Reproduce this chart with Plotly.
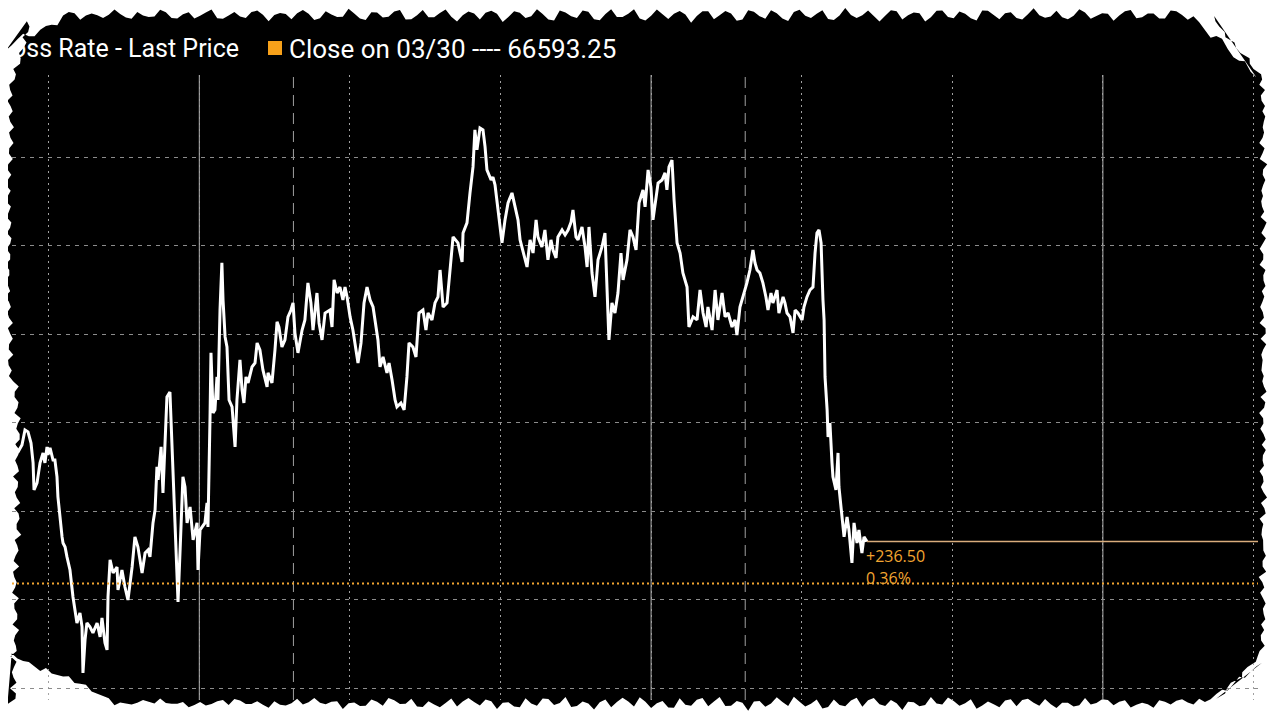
import numpy as np
import plotly.graph_objects as go

# ---- data (hours since 03/30 00:00, price) ----
hours = [14.10, 14.37, 14.58, 14.74, 14.90, 15.06, 15.17, 15.22, 15.38, 15.54, 15.70, 15.80, 15.91, 15.96, 16.07,
         16.23, 16.33, 16.44, 16.49, 16.60, 16.71, 16.76, 16.87, 16.97, 17.13, 17.29, 17.40, 17.50, 17.66, 17.77,
         17.82, 17.93, 18.03, 18.19, 18.35, 18.57, 18.73, 18.83, 18.99, 19.10, 19.15, 19.26, 19.42, 19.63, 19.68,
         19.89, 20.05, 20.21, 20.43, 20.58, 20.74, 20.96, 21.12, 21.28, 21.38, 21.54, 21.65, 21.75, 21.81, 21.97,
         22.07, 22.18, 22.28, 22.44, 22.55, 22.60, 22.71, 22.82, 22.87, 22.98, 23.13, 23.24, 23.35, 23.51, 23.67,
         23.88, 23.93, 24.04, 24.30, 24.41, 24.46, 24.57, 24.62, 24.73, 24.83, 24.94, 24.99, 25.10, 25.20, 25.26,
         25.37, 25.47, 25.58, 25.74, 25.90, 26.00, 26.16, 26.27, 26.37, 26.48, 26.59, 26.80, 26.96, 27.07, 27.22,
         27.38, 27.60, 27.65, 27.86, 28.02, 28.13, 28.23, 28.39, 28.55, 28.71, 28.87, 28.98, 29.08, 29.24, 29.46,
         29.61, 29.77, 29.93, 30.04, 30.25, 30.36, 30.52, 30.68, 30.94, 31.05, 31.16, 31.32, 31.47, 31.63, 31.74,
         31.85, 32.01, 32.16, 32.32, 32.43, 32.59, 32.75, 32.91, 33.07, 33.23, 33.39, 33.49, 33.60, 33.76, 33.97,
         34.08, 34.24, 34.40, 34.50, 34.71, 34.88, 35.03, 35.14, 35.35, 35.51, 35.67, 35.88, 36.04, 36.15, 36.36,
         36.52, 36.68, 36.79, 36.95, 37.16, 37.32, 37.48, 37.74, 37.96, 38.01, 38.22, 38.38, 38.54, 38.64, 38.75,
         38.91, 39.07, 39.18, 39.28, 39.50, 39.60, 39.71, 39.87, 40.08, 40.24, 40.40, 40.61, 40.77, 40.93, 41.04,
         41.20, 41.41, 41.57, 41.73, 41.89, 41.99, 42.20, 42.36, 42.52, 42.68, 42.79, 42.95, 43.05, 43.27, 43.43,
         43.59, 43.75, 43.85, 44.01, 44.12, 44.33, 44.49, 44.60, 44.70, 44.86, 45.02, 45.18, 45.39, 45.55, 45.66,
         45.76, 45.92, 46.08, 46.24, 46.40, 46.51, 46.72, 46.88, 47.04, 47.20, 47.36, 47.57, 47.68, 47.84, 47.99,
         48.10, 48.26, 48.37, 48.58, 48.74, 48.84, 48.95, 49.11, 49.22, 49.38, 49.54, 49.69, 49.91, 50.01, 50.23,
         50.44, 50.60, 50.76, 50.92, 51.02, 51.24, 51.40, 51.55, 51.77, 51.93, 52.09, 52.30, 52.46, 52.56, 52.72,
         52.88, 53.09, 53.25, 53.41, 53.52, 53.63, 53.78, 53.94, 54.10, 54.21, 54.37, 54.47, 54.69, 54.79, 55.01,
         55.11, 55.22, 55.38, 55.54, 55.65, 55.80, 56.02, 56.12, 56.28, 56.44, 56.60, 56.71, 56.81, 56.92, 57.03,
         57.13, 57.19, 57.24, 57.35, 57.40, 57.50, 57.61, 57.66, 57.82, 57.93, 57.98, 58.14, 58.25, 58.41, 58.51,
         58.67, 58.78, 58.94, 59.04, 59.20, 59.31, 59.47]

prices = [67386, 67336, 67375, 67460, 67449, 67386, 67274, 67121, 67161, 67274, 67330, 67274, 67364, 67319, 67358,
          67290, 67290, 67195, 67082, 66952, 66856, 66822, 66799, 66743, 66669, 66517, 66444, 66370, 66427, 66348,
          66088, 66274, 66370, 66348, 66314, 66370, 66291, 66398, 66257, 66218, 66517, 66726, 66652, 66686, 66556,
          66669, 66573, 66500, 66686, 66856, 66799, 66652, 66765, 66782, 66743, 66935, 67008, 67251, 67178, 67364,
          67104, 67420, 67646, 67674, 67386, 67195, 66969, 66596, 66489, 66782, 67195, 67138, 66935, 67025, 66839,
          66935, 66669, 66895, 66935, 67048, 66912, 67533, 67895, 67556, 67573, 67759, 67629, 68137, 68403, 68194,
          67985, 67928, 67629, 67590, 67364, 67629, 67855, 67686, 67612, 67759, 67725, 67816, 67838, 67951, 67912,
          67799, 67703, 67782, 67725, 67912, 68070, 68041, 67928, 67968, 68098, 68137, 68177, 68008, 67895, 68024,
          68081, 68290, 68177, 68024, 68233, 68064, 67968, 68120, 68137, 68041, 68307, 68233, 68267, 68194, 68267,
          68211, 68098, 68024, 67928, 67838, 67951, 68177, 68267, 68194, 68154, 68024, 67968, 67816, 67872, 67782,
          67838, 67742, 67629, 67590, 67612, 67573, 67759, 67951, 67928, 67872, 68120, 68137, 68024, 68120, 68081,
          68177, 68211, 68363, 68154, 68177, 68380, 68550, 68516, 68408, 68572, 68629, 68798, 68945, 69154, 69041,
          69165, 69154, 69058, 68928, 68871, 68888, 68843, 68685, 68516, 68646, 68742, 68798, 68719, 68646, 68533,
          68459, 68380, 68533, 68459, 68646, 68550, 68493, 68589, 68420, 68533, 68476, 68431, 68550, 68589, 68561,
          68589, 68634, 68702, 68550, 68533, 68606, 68493, 68380, 68606, 68346, 68211, 68420, 68493, 68572, 68233,
          67968, 68177, 68120, 68233, 68459, 68307, 68420, 68589, 68550, 68476, 68742, 68815, 68719, 68928, 68832,
          68646, 68758, 68854, 68871, 68911, 68815, 68945, 68984, 68758, 68516, 68459, 68346, 68267, 68041, 68098,
          68081, 68250, 68120, 68041, 68154, 68024, 68250, 68081, 68233, 68098, 68120, 68041, 68081, 67996, 68154,
          68211, 68290, 68363, 68476, 68403, 68363, 68346, 68290, 68211, 68137, 68233, 68177, 68250, 68120, 68211,
          68177, 68120, 68098, 68008, 68137, 68120, 68081, 68154, 68211, 68250, 68267, 68459, 68572, 68589, 68516,
          68194, 68081, 67759, 67573, 67420, 67499, 67274, 67195, 67121, 67330, 67138, 66991, 66856, 66969, 66895,
          66709, 66935, 66822, 66895, 66765, 66856, 66829.75]

close_price = 66593.25
last_price = 66829.75
change_abs = "+236.50"
change_pct = "0.36%"
series_name = "oss Rate - Last Price"   # visible part of the (torn) series title
close_label = "Close on 03/30 ---- 66593.25"

day_lines = [24, 48, 72]
session_lines = [29, 53]
x_range = [14.05, 80.24]
y_range = [65935, 69464]

# ---- geometry (layout only); page body has an 8px margin ----
OFF = 8
W, H = 1280 - OFF, 720 - OFF
ML, MT = 12 - OFF, 75 - OFF
MR, MB = 22, 20
PW, PH = W - ML - MR, H - MT - MB


def px2paper(px, py):
    # px, py are screen pixel positions
    return (px - OFF - ML) / PW, (H - MB - (py - OFF)) / PH


# torn-paper black backdrop: jagged rectangle (deterministic wobble)
def wobble(t, a):
    return a * (0.55 * np.sin(t * 1.7) + 0.3 * np.sin(t * 5.3 + 1.1) + 0.25 * np.sin(t * 13.1 + 0.4)
                + 0.2 * np.sin(t * 31.7 + 2.0))


pts = []
n = 220
for i in range(n):  # top edge, left->right
    px = 6 + (1262 - 6) * i / n
    py = 15 + wobble(i * 0.9, 6)
    if px < 70:
        py += (70 - px) * 0.5
    if px > 1190:
        py += (px - 1190) * 0.9
    pts.append((px, py))
m = 130
for i in range(m):  # right edge, top->bottom
    py = 16 + (704 - 16) * i / m
    px = 1263 + wobble(i * 1.3 + 5, 4)
    if py < 80:
        px -= (80 - py) * 0.8
    if py > 650:
        px -= (py - 650) * 0.9
    pts.append((px, py))
for i in range(n):  # bottom edge, right->left
    px = 1262 - (1262 - 6) * i / n
    py = 703 + wobble(i * 1.1 + 9, 6)
    if px < 120:
        py -= (120 - px) * 0.45
    if px > 1200:
        py -= (px - 1200) * 0.6
    pts.append((px, py))
for i in range(m):  # left edge, bottom->top
    py = 704 - (704 - 16) * i / m
    px = 10 + wobble(i * 1.2 + 3, 5)
    if 380 < py < 700:
        px += 6
    if py < 90:
        px += (90 - py) * 0.25
    pts.append((px, py))

path = "M " + " L ".join(f"{px2paper(a, b)[0]:.5f},{px2paper(a, b)[1]:.5f}" for a, b in pts) + " Z"

fig = go.Figure()

fig.add_trace(go.Scatter(x=hours, y=prices, mode="lines",
                         line=dict(color="#ffffff", width=3), name=series_name,
                         hoverinfo="x+y"))
fig.add_trace(go.Scatter(x=[hours[-1], x_range[1]], y=[last_price, last_price], mode="lines",
                         line=dict(color="#d9ad7c", width=1.6), hoverinfo="skip", name="Last"))

shapes = [dict(type="path", path=path, xref="paper", yref="paper", fillcolor="#000000",
               line=dict(width=0), layer="below")]
for d in day_lines:
    shapes.append(dict(type="line", xref="x", yref="paper", x0=d, x1=d, y0=0, y1=1,
                       line=dict(color="#b4b4b4", width=1), layer="below"))
for d in session_lines:
    shapes.append(dict(type="line", xref="x", yref="paper", x0=d, x1=d, y0=0, y1=1,
                       line=dict(color="#a0a0a0", width=1, dash="11px,7px"), layer="below"))
shapes.append(dict(type="line", xref="paper", yref="y", x0=0, x1=1, y0=close_price, y1=close_price,
                   line=dict(color="#f2a531", width=2, dash="2px,3px"), layer="above"))
# legend square
sx0, sy0 = px2paper(268, 55)
sx1, sy1 = px2paper(282, 41)
shapes.append(dict(type="rect", xref="paper", yref="paper", x0=sx0, x1=sx1, y0=sy0, y1=sy1,
                   fillcolor="#f7a11a", line=dict(width=0)))

lx, ly = px2paper(10, 49)
cx, _ = px2paper(287, 49)
font_family = "Roboto, Open Sans, sans-serif"
annotations = [
    dict(text=series_name, xref="paper", yref="paper", x=lx, y=ly, xanchor="left", yanchor="middle",
         showarrow=False, font=dict(family=font_family, size=25, color="#ffffff")),
    dict(text=close_label, xref="paper", yref="paper", x=cx, y=ly, xanchor="left", yanchor="middle",
         showarrow=False, font=dict(family=font_family, size=26, color="#ffffff")),
    dict(text=change_abs, xref="x", yref="y", x=hours[-1], y=last_price, xanchor="left", yanchor="top",
         xshift=-3, yshift=-1, showarrow=False,
         font=dict(family="Open Sans, sans-serif", size=16, color="#f2a531")),
    dict(text=change_pct, xref="x", yref="y", x=hours[-1], y=last_price, xanchor="left", yanchor="top",
         xshift=-3, yshift=-23, showarrow=False,
         font=dict(family="Open Sans, sans-serif", size=16, color="#f2a531")),
]

fig.update_layout(
    width=W, height=H,
    margin=dict(l=ML, r=MR, t=MT, b=MB),
    paper_bgcolor="#ffffff",
    plot_bgcolor="rgba(0,0,0,0)",
    showlegend=False,
    shapes=shapes,
    annotations=annotations,
    xaxis=dict(range=x_range, tick0=0, dtick=8, showgrid=True, gridcolor="#a0a0a0", gridwidth=1,
               griddash="2px,4px", showticklabels=False, zeroline=False, showline=False, ticks=""),
    yaxis=dict(range=y_range, tick0=66000, dtick=500, showgrid=True, gridcolor="#8c8c8c", gridwidth=1,
               griddash="4px,5px", showticklabels=False, zeroline=False, showline=False, ticks=""),
)

fig.write_html("out.html")
